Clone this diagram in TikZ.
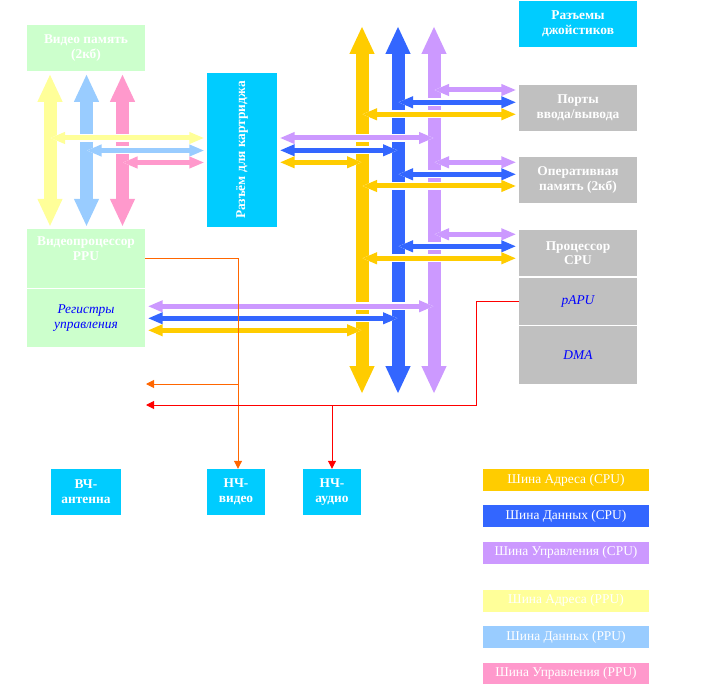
\documentclass[tikz,border=0pt]{standalone}
\usepackage{fontspec}
\setmainfont{Liberation Serif}
\usepackage{xcolor}
\definecolor{ppugreen}{HTML}{CCFFCC}
\definecolor{slotcyan}{HTML}{00CCFF}
\definecolor{cpugray}{HTML}{C0C0C0}
\definecolor{cpuaddr}{HTML}{FFCC00}
\definecolor{cpudata}{HTML}{3366FF}
\definecolor{cpuctrl}{HTML}{CC99FF}
\definecolor{ppuaddr}{HTML}{FFFF99}
\definecolor{ppudata}{HTML}{99CCFF}
\definecolor{ppuctrl}{HTML}{FF99CC}
\definecolor{wireorange}{HTML}{FF6600}
\definecolor{regblue}{HTML}{0000FF}
\usepackage{tikz}
\usetikzlibrary{arrows.meta, positioning}
\newcommand{\boxfont}{\fontsize{13.4}{14.6}\selectfont}

\begin{document}
\begin{tikzpicture}[x=1pt, y=-1pt,
  unit/.style={rectangle, inner sep=0pt, minimum width=118pt, align=center,
               font=\boxfont\bfseries, text=white},
  title/.style={inner sep=0pt, align=center, font=\boxfont\bfseries, text=white},
  port/.style={unit, fill=slotcyan},
  bus/.style={line width=13pt, {Triangle[width=23pt,length=28pt]}-{Triangle[width=23pt,length=28pt]}},
  tap/.style={line width=5pt, {Triangle[width=11pt,length=15pt]}-{Triangle[width=11pt,length=15pt]},
              shorten >=2.5pt, preaction={draw=white, line width=8pt}},
  wire/.style={line width=1pt, -{Triangle[width=8pt,length=8pt]}},
  key/.style={rectangle, inner sep=0pt, minimum width=166pt, minimum height=21.7pt,
              font=\boxfont, text=white}
]
\useasboundingbox (0,0) rectangle (711,684);

% PPU side
\node[unit, fill=ppugreen, minimum height=45.7pt] (vram) at (86,47.85) {Видео память\\(2кб)};
\node[unit, fill=ppugreen, minimum height=59pt] (ppu) at (86,258.5) {};
\node[title, below=8pt of ppu.north] (ppulbl) {Видеопроцессор\\PPU};
\node[unit, fill=ppugreen, minimum height=57.7pt, below=1pt of ppu,
      font=\boxfont\itshape, text=regblue] (regs) {Регистры\\управления};
\node[port, minimum width=70pt, minimum height=154pt] (cart) at (242,150) {};
\node[title, rotate=90] (cartlbl) at (cart) {Разъём для картриджа};

% CPU side
\node[port, minimum height=45.7pt] (joy) at (578,23.85) {Разъемы\\джойстиков};
\node[unit, fill=cpugray, minimum height=45.7pt] (io) at (578,107.85) {Порты\\ввода/вывода};
\node[unit, fill=cpugray, minimum height=45.3pt, below=26.3pt of io] (ram) {Оперативная\\память (2кб)};
\node[unit, fill=cpugray, minimum height=46.7pt, below=26.7pt of ram] (cpu) {Процессор\\CPU};
\node[unit, fill=cpugray, minimum height=47pt, below=1pt of cpu,
      font=\boxfont\itshape, text=regblue] (papu) {pAPU};
\node[unit, fill=cpugray, minimum height=58pt, below=1pt of papu,
      font=\boxfont\itshape, text=regblue] (dma) {DMA};

% outputs
\node[port, minimum width=69.7pt, minimum height=45.7pt] (rf) at (86,491.85) {ВЧ-\\антенна};
\node[port, minimum width=58pt, minimum height=45.7pt] (vout) at (236,491.85) {НЧ-\\видео};
\node[port, minimum width=58pt, minimum height=45.7pt] (aout) at (332,491.85) {НЧ-\\аудио};

% buses
\coordinate (pA) at (50,0); \coordinate (pD) at (86.5,0); \coordinate (pC) at (122.5,0);
\coordinate (cA) at (362,0); \coordinate (cD) at (398,0); \coordinate (cC) at (434,0);
\draw[bus, ppuaddr, shorten <=3pt, shorten >=2pt] (pA |- vram.south) -- (pA |- ppu.north);
\draw[bus, ppudata, shorten <=3pt, shorten >=2pt] (pD |- vram.south) -- (pD |- ppu.north);
\draw[bus, ppuctrl, shorten <=3pt, shorten >=2pt] (pC |- vram.south) -- (pC |- ppu.north);
\draw[bus, cpuaddr] (cA |- 0,26) -- (cA |- 0,394);
\draw[bus, cpudata] (cD |- 0,26) -- (cD |- 0,394);
\draw[bus, cpuctrl] (cC |- 0,26) -- (cC |- 0,394);

% taps
\draw[tap, ppuaddr] (pA |- 0,138) -- (cart.west |- 0,138);
\draw[tap, ppudata] (pD |- 0,150.5) -- (cart.west |- 0,150.5);
\draw[tap, ppuctrl] (pC |- 0,162.5) -- (cart.west |- 0,162.5);
\draw[tap, cpuctrl] (cC |- 0,138) -- (cart.east |- 0,138);
\draw[tap, cpudata] (cD |- 0,150.3) -- (cart.east |- 0,150.3);
\draw[tap, cpuaddr] (cA |- 0,162.3) -- (cart.east |- 0,162.3);
\draw[tap, cpuctrl] (cC |- 0,90) -- (io.west |- 0,90);
\draw[tap, cpudata] (cD |- 0,102.3) -- (io.west |- 0,102.3);
\draw[tap, cpuaddr] (cA |- 0,114.3) -- (io.west |- 0,114.3);
\draw[tap, cpuctrl] (cC |- 0,162.3) -- (ram.west |- 0,162.3);
\draw[tap, cpudata] (cD |- 0,174.3) -- (ram.west |- 0,174.3);
\draw[tap, cpuaddr] (cA |- 0,186) -- (ram.west |- 0,186);
\draw[tap, cpuctrl] (cC |- 0,234.3) -- (cpu.west |- 0,234.3);
\draw[tap, cpudata] (cD |- 0,246.3) -- (cpu.west |- 0,246.3);
\draw[tap, cpuaddr] (cA |- 0,258.3) -- (cpu.west |- 0,258.3);
\draw[tap, cpuctrl] (cC |- 0,306.3) -- (regs.east |- 0,306.3);
\draw[tap, cpudata] (cD |- 0,318.3) -- (regs.east |- 0,318.3);
\draw[tap, cpuaddr] (cA |- 0,330.3) -- (regs.east |- 0,330.3);

% signal wires
\coordinate (vdrop) at ([xshift=2pt]vout.north);
\coordinate (vtap) at (146,384); \coordinate (atap) at (146,405); \coordinate (rbend) at (476,405);
\draw[wire, wireorange] (ppu.east) -| (vdrop);
\draw[wire, wireorange] (vdrop |- vtap) -- (vtap);
\draw[wire, red] (papu.west) -| (rbend) -- (atap);
\draw[wire, red] (aout.north |- rbend) -- (aout.north);

% legend
\node[key, fill=cpuaddr] (kca) at (566,479.85) {Шина Адреса (CPU)};
\node[key, fill=cpudata, below=14.3pt of kca] (kcd) {Шина Данных (CPU)};
\node[key, fill=cpuctrl, below=14.3pt of kcd] (kcc) {Шина Управления (CPU)};
\node[key, fill=ppuaddr, below=26pt of kcc] (kpa) {Шина Адреса (PPU)};
\node[key, fill=ppudata, below=14.3pt of kpa] (kpd) {Шина Данных (PPU)};
\node[key, fill=ppuctrl, below=14.3pt of kpd] (kpc) {Шина Управления (PPU)};
\end{tikzpicture}
\end{document}
